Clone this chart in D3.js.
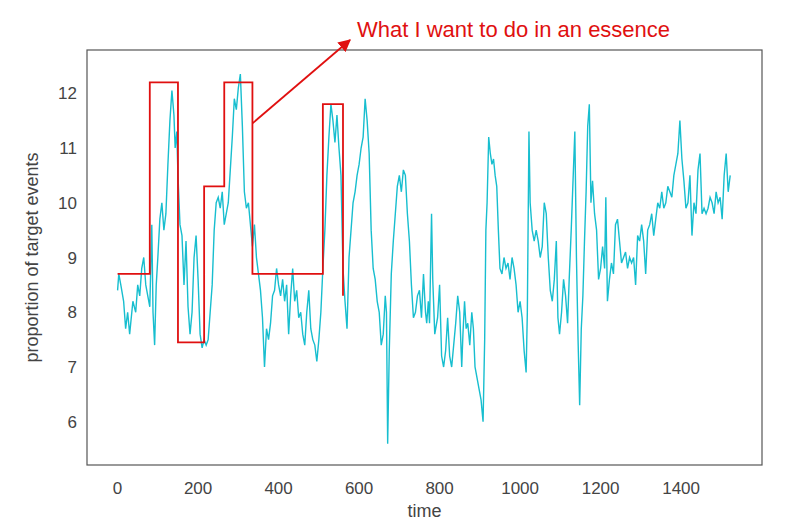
<!DOCTYPE html><html><head><meta charset="utf-8">
<script src="https://cdn.jsdelivr.net/npm/d3@7"></script>
<style>body{margin:0;background:#fff}text{font-family:"Liberation Sans",Arial,sans-serif}</style></head><body>
<svg id="c" width="800" height="527"></svg>
<script>
const xTicks=[0,200,400,600,800,1000,1200,1400];
const yTicks=[6,7,8,9,10,11,12];
const seriesX=[0,3,8,15,20,25,30,38,45,50,55,60,65,70,75,80,85,88,92,96,100,105,110,115,120,125,130,135,140,143,147,150,155,160,165,170,175,180,185,190,195,200,205,210,215,220,225,230,235,240,245,250,255,260,265,270,275,280,285,290,295,300,305,310,315,320,325,330,335,340,345,350,355,360,365,370,375,380,385,390,395,400,405,410,415,420,425,430,435,440,445,450,455,460,465,470,475,480,485,490,495,500,505,510,515,520,525,530,535,540,545,550,555,560,565,570,575,580,585,590,595,600,605,610,615,620,625,630,635,640,645,650,655,660,665,668,671,675,680,685,690,695,700,705,710,715,720,725,730,735,740,745,750,755,760,765,768,772,775,780,783,788,795,800,805,810,815,820,825,830,835,840,845,850,855,858,862,866,870,875,880,884,888,893,898,903,908,912,915,918,922,926,930,934,938,942,946,950,955,960,965,970,975,980,985,990,995,1000,1005,1010,1015,1018,1022,1025,1030,1035,1040,1045,1050,1055,1060,1065,1070,1075,1080,1085,1090,1094,1098,1103,1108,1113,1118,1122,1127,1132,1136,1140,1144,1148,1152,1156,1160,1164,1168,1172,1176,1180,1185,1190,1195,1200,1205,1210,1213,1217,1222,1227,1232,1237,1242,1247,1252,1257,1262,1267,1272,1277,1282,1287,1292,1297,1302,1307,1312,1317,1322,1327,1332,1337,1342,1347,1352,1357,1362,1367,1372,1377,1382,1387,1392,1397,1402,1407,1412,1417,1422,1427,1432,1437,1442,1447,1452,1457,1462,1467,1472,1477,1482,1487,1492,1497,1502,1507,1512,1517,1522];
const seriesY=[8.4,8.7,8.5,8.2,7.7,8.0,7.6,8.2,8.0,8.5,8.3,8.8,9.0,8.5,8.3,8.1,9.6,8.0,7.4,8.5,9.0,9.7,10.0,9.5,9.8,10.7,11.5,12.05,11.6,11.0,11.3,10.5,9.6,9.4,8.5,9.3,8.1,7.6,8.0,9.0,9.4,8.6,7.6,7.35,7.5,7.4,7.5,8.0,8.5,9.5,10.0,10.1,9.9,10.2,9.6,9.8,10.0,10.6,11.2,11.9,11.7,12.1,12.35,11.4,10.2,9.9,10.0,9.6,9.2,9.6,9.0,8.7,8.4,7.9,7.0,7.7,7.5,7.8,8.3,8.4,8.8,8.5,8.3,8.6,8.2,8.5,7.6,8.3,8.8,8.2,8.4,7.9,8.0,7.6,7.4,8.0,8.4,7.7,7.5,7.4,7.1,7.5,8.0,8.8,9.5,10.5,11.2,11.8,11.5,11.1,11.6,11.0,10.5,8.8,8.2,7.7,9.0,9.5,10.0,10.2,10.5,10.7,11.0,11.2,11.9,11.5,10.9,9.5,8.8,8.6,8.2,8.0,7.4,7.6,8.3,8.0,5.6,7.3,8.7,9.3,9.8,10.3,10.5,10.2,10.6,10.5,9.8,9.3,8.5,7.9,8.0,8.3,8.4,7.9,8.7,8.0,7.8,8.2,7.8,9.8,8.6,7.6,7.9,8.5,7.2,7.0,7.3,7.9,7.2,7.0,7.4,7.8,8.3,8.0,7.0,7.6,8.2,7.7,7.8,7.4,8.0,7.7,7.0,6.8,6.6,6.4,6.0,7.5,9.5,10.0,11.2,10.9,10.7,10.8,10.5,10.3,9.5,8.8,8.7,9.0,8.8,8.9,8.6,9.0,8.8,8.5,8.0,8.2,7.9,7.3,6.9,8.0,11.3,10.0,9.5,9.3,9.5,9.3,9.0,9.2,10.0,9.8,9.0,8.4,8.2,8.6,9.3,7.9,7.6,8.0,8.6,8.3,7.8,8.6,9.5,10.5,11.3,9.0,7.5,6.3,7.7,8.3,9.3,10.2,11.4,11.8,10.0,10.4,9.8,9.5,8.6,8.8,9.2,8.8,10.1,8.2,8.6,8.9,8.7,9.6,9.7,9.3,8.9,9.0,9.1,8.8,9.0,8.9,9.0,8.5,9.4,9.3,9.6,9.3,8.7,9.5,9.6,9.8,9.4,9.7,10.0,9.9,10.2,9.9,10.0,10.3,10.2,10.1,10.5,10.7,10.9,11.5,10.8,10.4,9.9,10.0,10.5,9.4,10.0,9.8,10.6,10.9,9.8,9.9,9.8,9.9,10.1,10.0,9.8,10.2,10.0,10.1,9.7,10.5,10.9,10.2,10.5,10.4];
const stepX=[0,80,80,150,150,215,215,265,265,335,335,510,510,560,560];
const stepY=[8.7,8.7,12.2,12.2,7.45,7.45,10.3,10.3,12.2,12.2,8.7,8.7,11.8,11.8,8.3];

const svg=d3.select("#c");
const L=87,R=762,T=50,B=465;
const x=d3.scaleLinear().domain([-76,1601]).range([L,R]);
const y=d3.scaleLinear().domain([5.21,12.79]).range([B,T]);
const grey="#444";
// ticks
xTicks.forEach(t=>svg.append("text").attr("x",x(t)).attr("y",B+29).attr("text-anchor","middle").attr("font-size",17).attr("fill",grey).text(t));
yTicks.forEach(t=>svg.append("text").attr("x",L-10).attr("y",y(t)+6).attr("text-anchor","end").attr("font-size",17).attr("fill",grey).text(t));
svg.append("text").attr("x",(L+R)/2).attr("y",517).attr("text-anchor","middle").attr("font-size",18).attr("fill",grey).text("time");
svg.append("text").attr("transform",`translate(38,${(T+B)/2}) rotate(-90)`).attr("text-anchor","middle").attr("font-size",18).attr("fill",grey).text("proportion of target events");
const pts=seriesX.map((v,i)=>[v,seriesY[i]]);
svg.append("path").attr("d",d3.line().x(d=>x(d[0])).y(d=>y(d[1]))(pts)).attr("fill","none").attr("stroke","#17becf").attr("stroke-width",1.4);
const sp=stepX.map((v,i)=>[v,stepY[i]]);
svg.append("path").attr("d",d3.line().x(d=>x(d[0])).y(d=>y(d[1]))(sp)).attr("fill","none").attr("stroke","#e01010").attr("stroke-width",1.8);
svg.append("rect").attr("x",L).attr("y",T).attr("width",R-L).attr("height",B-T).attr("fill","none").attr("stroke","#555").attr("stroke-width",1.2);
// annotation
svg.append("defs").append("marker").attr("id","ah").attr("viewBox","0 0 10 10").attr("refX",9).attr("refY",5).attr("markerWidth",7).attr("markerHeight",7).attr("orient","auto").append("path").attr("d","M0,0L10,5L0,10z").attr("fill","#e01010");
svg.append("line").attr("x1",x(335)).attr("y1",y(11.45)).attr("x2",350).attr("y2",40).attr("stroke","#e01010").attr("stroke-width",1.8).attr("marker-end","url(#ah)");
svg.append("text").attr("x",357).attr("y",37).attr("font-size",22).attr("fill","#e01010").attr("font-family","Carlito,'Open Sans',sans-serif").text("What I want to do in an essence");
</script></body></html>
